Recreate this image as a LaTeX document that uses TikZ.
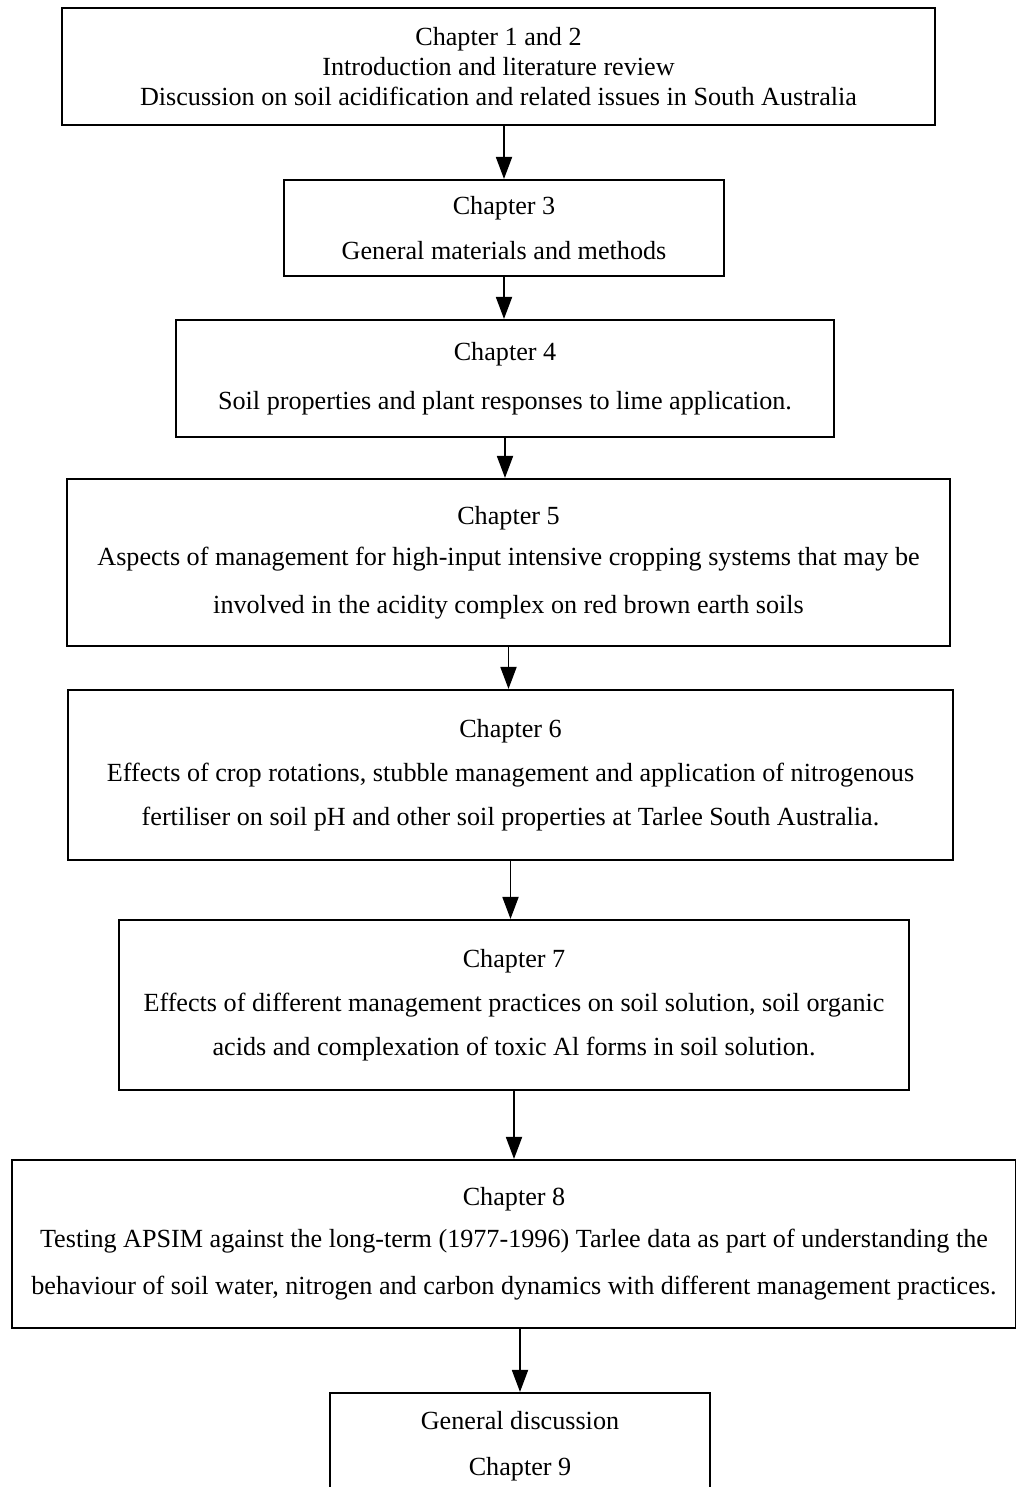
\documentclass[tikz,border=0pt]{standalone}
\usepackage{fontspec}
\setmainfont{Liberation Serif}
\usetikzlibrary{arrows.meta}

\tikzset{
  chapbox/.style={draw, line width=1.5pt, align=center, inner sep=0pt,
    font=\fontsize{18.6}{21.5}\selectfont},
  flow/.style={line width=1.3pt, -{Triangle[length=5.5mm,width=4mm]}}
}

\begin{document}
\begin{tikzpicture}[x=0.025cm, y=-0.025cm]
        % Page frame
        \useasboundingbox (0,0) rectangle (1016,1487);

        % Chapter boxes
        \node[chapbox, minimum width=873*0.025cm, minimum height=117*0.025cm]
          (c12) at (498.5,66.5) {Chapter 1 and 2\\Introduction and literature review\\
          Discussion on soil acidification and related issues in South Australia};
        \node[chapbox, minimum width=440*0.025cm, minimum height=96*0.025cm]
          (c3) at (504,228) {Chapter 3\\[11pt]General materials and methods};
        \node[chapbox, minimum width=658*0.025cm, minimum height=117*0.025cm]
          (c4) at (505,378.5) {Chapter 4\\[13pt]Soil properties and plant responses to lime application.};
        \node[chapbox, minimum width=883*0.025cm, minimum height=167*0.025cm]
          (c5) at (508.5,562.5) {Chapter 5\\[8pt]Aspects of management for high-input intensive cropping systems that may be\\[12pt]
          involved in the acidity complex on red brown earth soils};
        \node[chapbox, minimum width=885*0.025cm, minimum height=170*0.025cm]
          (c6) at (510.5,775) {Chapter 6\\[10pt]Effects of crop rotations, stubble management and application of nitrogenous\\[10pt]
          fertiliser on soil pH and other soil properties at Tarlee South Australia.};
        \node[chapbox, minimum width=790*0.025cm, minimum height=170*0.025cm]
          (c7) at (514,1005) {Chapter 7\\[10pt]Effects of different management practices on soil solution, soil organic\\[10pt]
          acids and complexation of toxic Al forms in soil solution.};
        \node[chapbox, minimum width=1004*0.025cm, minimum height=168*0.025cm]
          (c8) at (514,1244) {Chapter 8\\[8pt]Testing APSIM against the long-term (1977-1996) Tarlee data as part of understanding the\\[12pt]
          behaviour of soil water, nitrogen and carbon dynamics with different management practices.};
        \node[chapbox, minimum width=380*0.025cm, minimum height=107*0.025cm]
          (c9) at (520,1446.5) {General discussion\\[11pt]Chapter 9};

        % Arrows between chapters
        \draw[flow] (c3.north |- c12.south) -- (c3.north);
        \draw[flow] (c3.south) -- (c3.south |- c4.north);
        \draw[flow] (c4.south) -- (c4.south |- c5.north);
        \draw[flow] (c5.south) -- (c5.south |- c6.north);
        \draw[flow] (c6.south) -- (c6.south |- c7.north);
        \draw[flow] (c7.south) -- (c7.south |- c8.north);
        \draw[flow] (c9.north |- c8.south) -- (c9.north);
\end{tikzpicture}
\end{document}
